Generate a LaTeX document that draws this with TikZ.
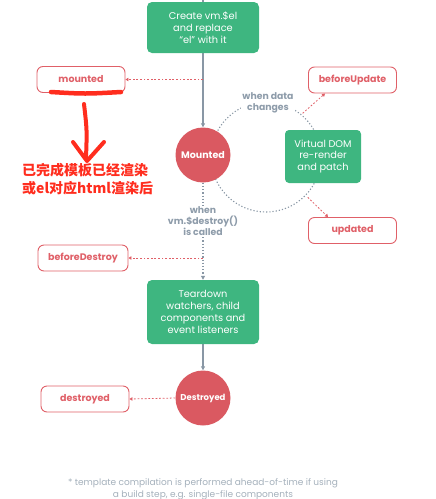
\documentclass[tikz,border=0pt]{standalone}
\usepackage{fontspec}
\setmainfont{Poppins}
\newfontfamily\cjk{Noto Sans CJK SC}
\usetikzlibrary{arrows.meta, positioning, backgrounds, calc}
\definecolor{vuegreen}{RGB}{62,182,128}
\definecolor{circred}{RGB}{218,89,97}
\definecolor{hookred}{RGB}{224,96,104}
\definecolor{notegray}{RGB}{142,156,170}
\definecolor{linegray}{RGB}{137,151,165}
\definecolor{handred}{RGB}{255,45,30}

\begin{document}
\begin{tikzpicture}[
  x=1pt, y=-1pt,
  greenbox/.style={rectangle, rounded corners=5pt, fill=vuegreen, text=white, align=center,
    font=\fontsize{9.8}{11.8}\selectfont, minimum width=112pt, inner sep=2pt},
  hook/.style={rectangle, rounded corners=6pt, draw=hookred, line width=0.9pt, fill=white,
    text=hookred, font=\fontsize{9.5}{11}\selectfont\bfseries, minimum width=88pt, minimum height=26pt},
  state/.style={circle, fill=circred, text=white, font=\fontsize{9.5}{11}\selectfont\bfseries,
    minimum size=55pt, inner sep=0pt},
  cond/.style={fill=white, text=notegray, align=center, font=\fontsize{9.3}{11}\selectfont\bfseries, inner sep=1pt},
  flow/.style={linegray, line width=1.1pt, -{Triangle[length=4pt,width=4pt]}},
  flowdot/.style={linegray, line width=1.1pt, dash pattern=on 1.2pt off 2pt, -{Triangle[length=4pt,width=4pt]}},
  hookline/.style={hookred, line width=0.8pt, dash pattern=on 1.8pt off 1.8pt, -{Triangle[length=3pt,width=3.5pt]}}
]
\useasboundingbox (0,0) rectangle (436,499);

% main column
\coordinate (top) at (203,0);
\node[greenbox, minimum height=51pt] (create) at (203,27.5) {Create vm.\$el\\and replace\\``el'' with it};
\node[state] (mounted) at (203,155) {Mounted};
\node[greenbox, minimum height=64pt] (teardown) at (203,312) {Teardown\\watchers, child\\components and\\event listeners};
\node[state, font=\fontsize{8.5}{10}\selectfont\bfseries] (destroyed) at (203,398) {Destroyed};

% update loop
\coordinate (loop) at (266,157);
\node[greenbox, minimum width=76pt, minimum height=53pt, rounded corners=4pt] (vdom) at (323,156.5) {Virtual DOM\\re-render\\and patch};
\node[cond] (datachg) at (268,103) {when data\\changes};
\coordinate (upd1) at ($(loop)+(-50:57)$);
\coordinate (upd2) at ($(loop)+(44:58)$);

% hooks
\node[hook] (hmounted) at (81,79.5) {mounted};
\node[hook] (hbeforeupdate) at (352.5,80) {beforeUpdate};
\node[hook] (hupdated) at (352.5,230.5) {updated};
\node[hook, minimum width=90pt] (hbeforedestroy) at (83,258) {beforeDestroy};
\node[hook] (hdestroyed) at (85,399) {destroyed};
\coordinate (m1) at (create.south |- hmounted);
\coordinate (m2) at (create.south |- hbeforedestroy);

\node[cond] (destroycall) at (203,221) {when\\vm.\$destroy()\\is called};

% note in red
\node[anchor=west, text=handred, align=left, font=\cjk\bfseries\fontsize{14}{18}\selectfont, inner sep=0pt] (cnote) at (22,179) {已完成模板已经渲染\\或el对应html渲染后};
\node[text=notegray!80!white, align=center, font=\fontsize{9}{12}\selectfont] (foot) at (203,489)
  {* template compilation is performed ahead-of-time if using\\a build step, e.g. single-file components};

\begin{scope}[on background layer]
\draw[linegray, line width=1.1pt] (top) -- (create.north);
\draw[flow] (create.south) -- (mounted.north);
\draw[flowdot] (mounted.south) -- (teardown.north);
\draw[flow] (teardown.south) -- (destroyed.north);
\draw[linegray, line width=1.1pt, dash pattern=on 1.2pt off 2pt] (loop) circle[radius=55pt];
\draw[hookline] (m1) -- (hmounted.east);
\draw[hookline] (m2) -- (hbeforedestroy.east);
\draw[hookline] (destroyed.west) -- (hdestroyed.east);
\draw[hookline] (upd1) -- ($(hbeforeupdate.south west)+(17,0)$);
\draw[hookline] (upd2) -- ($(hupdated.north west)+(20,0)$);
\end{scope}

% hand drawn marks
\draw[handred, line width=4.5pt, line cap=round] (51,92) .. controls (85,94) .. (121,92);
\draw[handred, line width=4pt, line cap=round] (84,104) .. controls (87,130) .. (86,158);
\draw[handred, line width=4pt, line cap=round, line join=round] (73,142) -- (87,161) -- (104,142);
\end{tikzpicture}
\end{document}
